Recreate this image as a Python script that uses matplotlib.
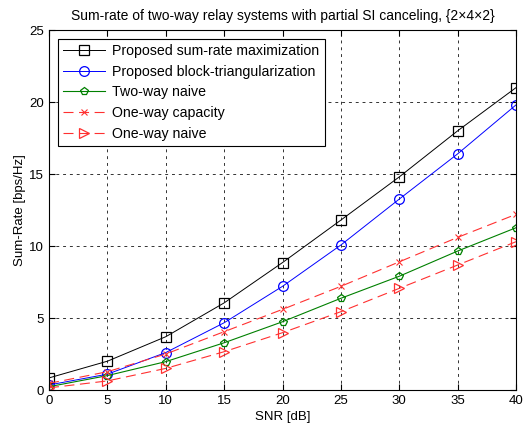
import numpy as np
import matplotlib
matplotlib.use('Agg')
import matplotlib.pyplot as plt

plt.rcParams['font.family'] = ['Liberation Sans', 'DejaVu Sans']

# data
snr_db = [0, 5, 10, 15, 20, 25, 30, 35, 40]
sum_rate_max = [0.84, 2.0, 3.7, 6.05, 8.85, 11.8, 14.8, 18.0, 21.0]
block_tri = [0.35, 1.1, 2.6, 4.67, 7.2, 10.07, 13.26, 16.4, 19.8]
two_way_naive = [0.23, 1.0, 1.97, 3.28, 4.74, 6.37, 7.9, 9.65, 11.27]
one_way_cap = [0.46, 1.27, 2.5, 4.05, 5.6, 7.2, 8.9, 10.6, 12.2]
one_way_naive = [0.15, 0.63, 1.5, 2.66, 3.98, 5.44, 7.06, 8.68, 10.3]

fig = plt.figure(figsize=(5.23, 4.33), dpi=100)
ax = fig.add_axes([0.0937, 0.0993, 0.893, 0.8314])

red = '#ff3030'
ax.plot(snr_db, sum_rate_max, 'k-s', lw=0.7, ms=7, mfc='none', mew=0.9,
        label='Proposed sum-rate maximization')
ax.plot(snr_db, block_tri, '-o', color='#0000ff', lw=0.7, ms=7, mfc='none', mew=0.9,
        label='Proposed block-triangularization')
ax.plot(snr_db, two_way_naive, '-p', color='#008000', lw=0.8, ms=5.5, mfc='none', mew=0.9,
        label='Two-way naive')
ax.plot(snr_db, one_way_cap, '--x', color=red, lw=0.8, ms=4.5, mew=0.8, dashes=(9, 5),
        label='One-way capacity')
ax.plot(snr_db, one_way_naive, '-->', color=red, lw=0.8, ms=7.5, mfc='none', mew=0.9, dashes=(9, 5),
        label='One-way naive')

ax.set_xlim(0, 40)
ax.set_ylim(0, 25)
ax.set_xticks(np.arange(0, 41, 5))
ax.set_yticks(np.arange(0, 26, 5))
ax.grid(True, color='black', linestyle=(0, (3, 4)), linewidth=0.7, alpha=0.8)
ax.tick_params(direction='in', top=True, right=True, labelsize=9.5, length=4)
ax.set_xlabel('SNR [dB]', fontsize=9.5, labelpad=3)
ax.set_ylabel('Sum-Rate [bps/Hz]', fontsize=9.5, labelpad=2)
ax.set_title('Sum-rate of two-way relay systems with partial SI canceling, {2\u00d74\u00d72}',
             fontsize=10, pad=7)
for s in ax.spines.values():
    s.set_linewidth(0.8)

leg = ax.legend(loc='upper left', bbox_to_anchor=(0.019, 0.975), borderaxespad=0,
                fontsize=10.2, fancybox=False, framealpha=1, edgecolor='black',
                handlelength=3.0, borderpad=0.35, labelspacing=0.47, handletextpad=0.5)
leg.get_frame().set_linewidth(0.8)

fig.savefig('out.png', dpi=100)
